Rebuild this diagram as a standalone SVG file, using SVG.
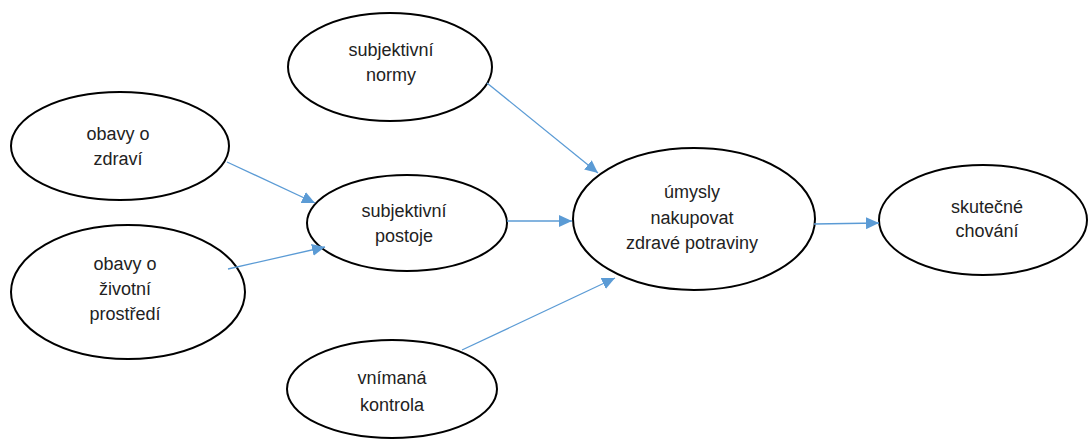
<svg xmlns="http://www.w3.org/2000/svg" width="1092" height="439" viewBox="0 0 1092 439">
<defs>
<marker id="arr" markerUnits="userSpaceOnUse" markerWidth="14" markerHeight="12" refX="13" refY="6" orient="auto">
<path d="M0,0 L13,6 L0,12 z" fill="#5B9BD5"/>
</marker>
<style>
.node ellipse{fill:#fff;stroke:#000;stroke-width:2}
.node text{font-family:"Liberation Sans",Arial,sans-serif;font-size:18px;fill:#222;text-anchor:middle}
.conn line{stroke:#5B9BD5;stroke-width:1.3;marker-end:url(#arr)}
</style>
</defs>
<rect width="1092" height="439" fill="#fff"/>
<g id="n-normy" class="node">
<ellipse cx="390" cy="67" rx="102" ry="54"/>
<text x="391" y="56">subjektivní</text>
<text x="391" y="81">normy</text>
</g>
<g id="n-zdravi" class="node">
<ellipse cx="120" cy="146" rx="109" ry="54"/>
<text x="118" y="140">obavy o</text>
<text x="118" y="165">zdraví</text>
</g>
<g id="n-prostredi" class="node">
<ellipse cx="128" cy="292" rx="117" ry="67"/>
<text x="125" y="270">obavy o</text>
<text x="125" y="295">životní</text>
<text x="125" y="320">prostředí</text>
</g>
<g id="n-postoje" class="node">
<ellipse cx="407" cy="223" rx="100" ry="48"/>
<text x="404" y="217">subjektivní</text>
<text x="404" y="242">postoje</text>
</g>
<g id="n-kontrola" class="node">
<ellipse cx="392" cy="389" rx="105" ry="49"/>
<text x="392" y="384">vnímaná</text>
<text x="392" y="411">kontrola</text>
</g>
<g id="n-umysly" class="node">
<ellipse cx="694" cy="219" rx="121" ry="71"/>
<text x="692" y="198">úmysly</text>
<text x="692" y="224">nakupovat</text>
<text x="692" y="249">zdravé potraviny</text>
</g>
<g id="n-chovani" class="node">
<ellipse cx="983" cy="220" rx="104" ry="55"/>
<text x="987" y="213">skutečné</text>
<text x="987" y="237">chování</text>
</g>
<g id="connectors" class="conn">
<line x1="487" y1="83" x2="598" y2="173"/>
<line x1="227" y1="162" x2="315" y2="203"/>
<line x1="228" y1="269" x2="325" y2="247"/>
<line x1="507" y1="221" x2="572" y2="221"/>
<line x1="462" y1="350" x2="615" y2="278"/>
<line x1="814" y1="224" x2="879" y2="223"/>
</g>
</svg>
